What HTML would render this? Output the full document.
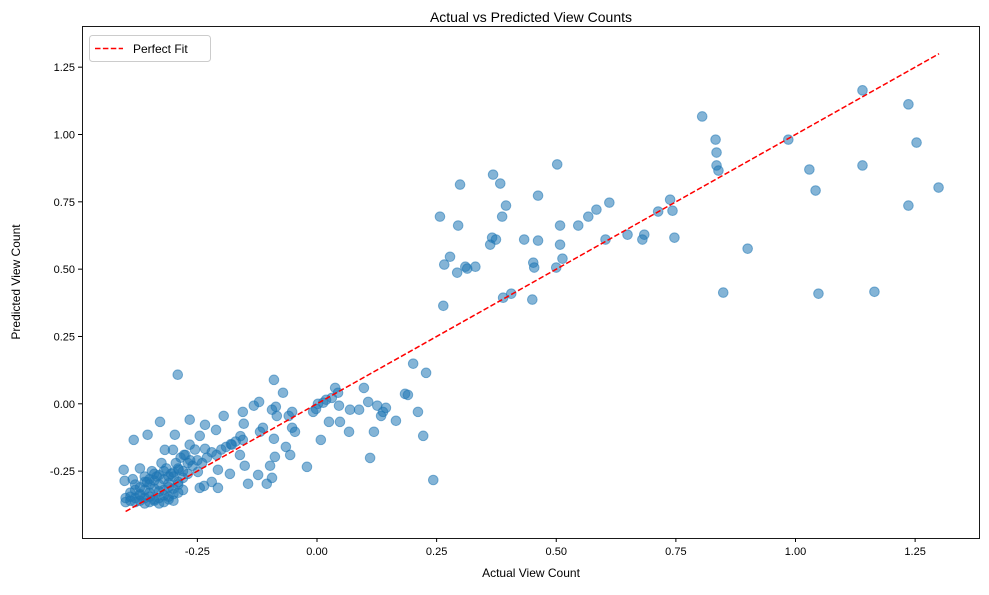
<!DOCTYPE html>
<html><head><meta charset="utf-8"><style>
body{margin:0;background:#fff;font-family:"Liberation Sans",sans-serif}
svg text{font-family:"Liberation Sans",sans-serif;fill:#000}
</style></head><body>
<svg id="chart" width="989" height="590">
<text x="531" y="22" font-size="14" text-anchor="middle">Actual vs Predicted View Counts</text>
<g id="marks"></g>
<g id="axes"></g>
<text x="531" y="577" font-size="12" text-anchor="middle">Actual View Count</text>
<text x="20" y="282" font-size="12" text-anchor="middle" transform="rotate(-90 20 282)">Predicted View Count</text>
<g>
<rect x="89.5" y="35.5" width="121" height="26" rx="3" fill="#fff" stroke="#ccc"/>
<line x1="95" y1="48.5" x2="123" y2="48.5" stroke="#ff0000" stroke-width="1.5" stroke-dasharray="5.5,2.4"/>
<text x="133" y="53" font-size="12">Perfect Fit</text>
</g>
</svg>
<script>
const actual=[0.805,1.140,1.236,1.253,0.985,1.029,1.042,1.140,1.299,1.236,0.833,0.835,0.835,0.839,0.900,0.849,1.048,1.165,0.502,0.299,0.368,0.383,0.395,0.387,0.462,0.257,0.295,0.611,0.584,0.567,0.508,0.546,0.684,0.743,0.738,0.713,0.747,0.680,0.603,0.649,0.462,0.433,0.508,0.362,0.366,0.374,0.278,0.266,0.310,0.314,0.331,0.293,0.513,0.500,0.452,0.454,0.389,0.406,0.450,0.264,
-0.291,-0.090,0.201,0.228,0.184,0.190,0.038,0.044,0.098,-0.071,0.019,0.031,-0.008,-0.002,0.002,0.013,0.025,0.046,0.048,0.069,0.088,0.107,0.126,0.138,0.134,0.144,0.165,0.211,0.222,0.119,0.111,0.243,0.067,0.008,-0.021,-0.052,-0.059,-0.052,-0.046,-0.056,-0.065,-0.086,-0.094,-0.084,-0.090,-0.088,-0.098,-0.094,-0.105,-0.121,-0.132,-0.113,-0.119,-0.123,-0.155,-0.153,-0.155,-0.161,-0.151,-0.144,-0.195,-0.178,-0.182,-0.211,-0.207,-0.207,-0.220,-0.234,-0.245,-0.234,-0.249,-0.245,-0.236,-0.266,-0.266,-0.278,-0.289,-0.297,-0.301,-0.328,-0.318,-0.354,-0.383,-0.404,-0.402,
-0.40,-0.39,-0.38,-0.37,-0.36,-0.35,-0.34,-0.33,-0.32,-0.31,-0.30,-0.40,-0.39,-0.38,-0.37,-0.36,-0.35,-0.34,-0.33,-0.32,-0.31,-0.30,-0.29,-0.39,-0.38,-0.37,-0.36,-0.35,-0.34,-0.33,-0.32,-0.31,-0.30,-0.29,-0.28,-0.38,-0.37,-0.36,-0.35,-0.34,-0.33,-0.32,-0.31,-0.30,-0.29,-0.28,-0.27,-0.36,-0.35,-0.34,-0.33,-0.32,-0.31,-0.30,-0.29,-0.28,-0.27,-0.26,-0.25,-0.24,-0.23,-0.22,-0.21,-0.20,-0.19,-0.18,-0.17,-0.16,-0.37,-0.345,-0.325,-0.305,-0.285,-0.265,-0.385,-0.355,-0.335,-0.315,-0.295,-0.275,-0.255];
const predicted=[1.067,1.164,1.112,0.970,0.981,0.870,0.792,0.885,0.803,0.736,0.981,0.933,0.885,0.866,0.576,0.413,0.409,0.416,0.889,0.814,0.851,0.818,0.736,0.695,0.773,0.695,0.662,0.747,0.721,0.695,0.662,0.662,0.628,0.717,0.758,0.714,0.617,0.610,0.610,0.628,0.606,0.610,0.591,0.591,0.617,0.610,0.546,0.517,0.509,0.502,0.509,0.487,0.539,0.506,0.524,0.506,0.394,0.409,0.387,0.364,
0.108,0.089,0.149,0.115,0.037,0.033,0.059,0.041,0.059,0.041,0.015,0.022,-0.030,-0.019,0,0.004,-0.067,-0.007,-0.067,-0.022,-0.022,0.007,-0.007,-0.030,-0.045,-0.015,-0.063,-0.030,-0.119,-0.104,-0.201,-0.283,-0.104,-0.134,-0.234,-0.030,-0.045,-0.089,-0.104,-0.190,-0.160,-0.011,-0.022,-0.045,-0.130,-0.197,-0.230,-0.275,-0.297,0.007,-0.007,-0.089,-0.104,-0.264,-0.030,-0.074,-0.134,-0.190,-0.230,-0.297,-0.045,-0.152,-0.260,-0.097,-0.245,-0.312,-0.290,-0.078,-0.119,-0.167,-0.253,-0.312,-0.305,-0.059,-0.152,-0.190,-0.245,-0.115,-0.171,-0.067,-0.171,-0.115,-0.134,-0.245,-0.286,
-0.365,-0.36,-0.365,-0.36,-0.37,-0.365,-0.36,-0.37,-0.365,-0.355,-0.36,-0.35,-0.345,-0.35,-0.34,-0.35,-0.345,-0.355,-0.35,-0.34,-0.345,-0.335,-0.33,-0.33,-0.32,-0.335,-0.32,-0.33,-0.315,-0.325,-0.32,-0.31,-0.315,-0.30,-0.32,-0.30,-0.31,-0.29,-0.30,-0.285,-0.30,-0.28,-0.295,-0.27,-0.29,-0.275,-0.26,-0.27,-0.28,-0.26,-0.265,-0.25,-0.27,-0.255,-0.24,-0.25,-0.22,-0.23,-0.21,-0.22,-0.20,-0.18,-0.19,-0.17,-0.16,-0.15,-0.14,-0.12,-0.24,-0.25,-0.22,-0.26,-0.20,-0.21,-0.28,-0.29,-0.27,-0.24,-0.22,-0.19,-0.17];
const xTicks=[-0.25,0,0.25,0.5,0.75,1.0,1.25];
const yTicks=[-0.25,0,0.25,0.5,0.75,1.0,1.25];
const fitRange=[-0.4,1.3];
const L=82,R=980,T=26,B=538;
const sx=v=>317+v*478.5, sy=v=>403.8-v*269.3;
const NS='http://www.w3.org/2000/svg';
const marks=document.getElementById('marks'), axes=document.getElementById('axes');
function mk(tag,a,p){const e=document.createElementNS(NS,tag);for(const k in a)e.setAttribute(k,a[k]);p.appendChild(e);return e;}
for(let i=0;i<actual.length;i++){
 const c=mk('circle',{cx:sx(actual[i]),cy:sy(predicted[i]),r:4.8,fill:'#1f77b4','fill-opacity':0.55,stroke:'#1f77b4','stroke-opacity':0.55,'stroke-width':1},marks);
 
 
}
const fl=mk('line',{x1:sx(fitRange[0]),y1:sy(fitRange[0]),x2:sx(fitRange[1]),y2:sy(fitRange[1]),stroke:'#ff0000','stroke-width':1.5,'stroke-dasharray':'5.5,2.4'},marks);


mk('rect',{x:L+0.5,y:T+0.5,width:R-L-1,height:B-T,fill:'none',stroke:'#000','stroke-width':0.9},axes);
xTicks.forEach(v=>{const x=sx(v);mk('line',{x1:x,y1:B,x2:x,y2:B+4,stroke:'#000'},axes);
 const t=mk('text',{x:x,y:B+17,'font-size':11,'text-anchor':'middle'},axes);t.textContent=v.toFixed(2);
 
 });
yTicks.forEach(v=>{const y=sy(v);mk('line',{x1:L,y1:y,x2:L-4,y2:y,stroke:'#000'},axes);
 const t=mk('text',{x:L-7,y:y+4,'font-size':11,'text-anchor':'end'},axes);t.textContent=v.toFixed(2);
 
 });
</script>
</body></html>
